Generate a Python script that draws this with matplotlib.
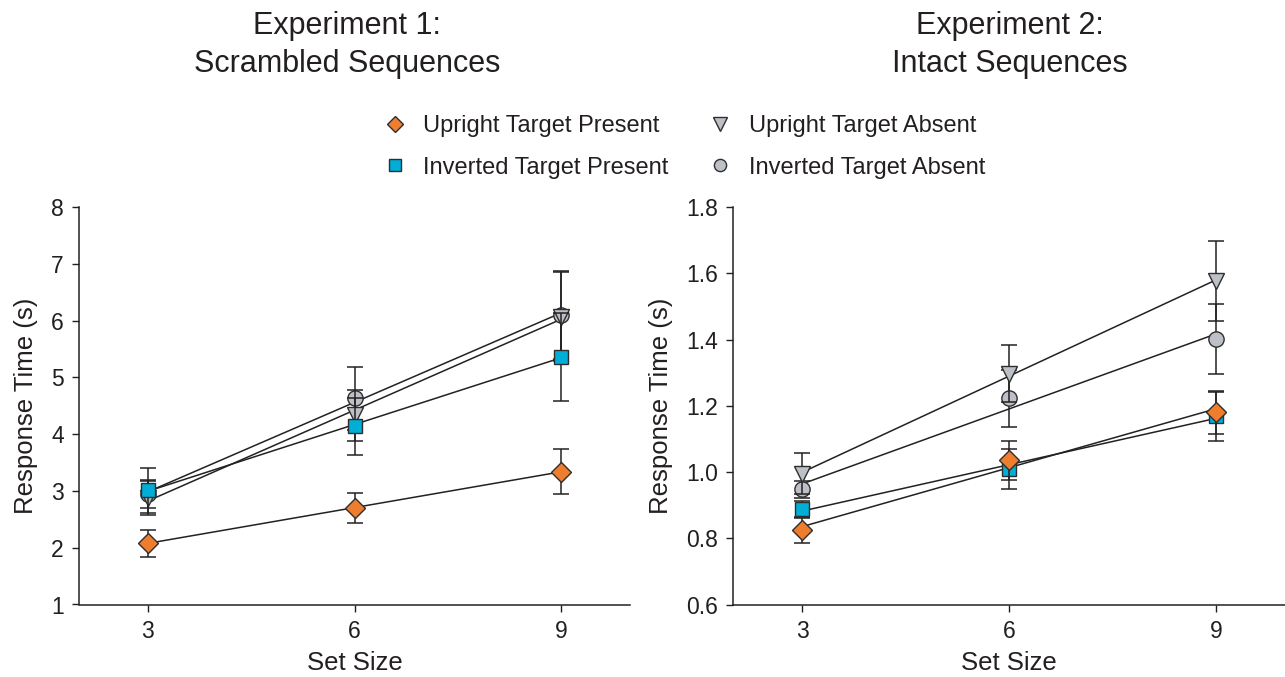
import numpy as np
import matplotlib
matplotlib.use("Agg")
import matplotlib.pyplot as plt
from matplotlib.lines import Line2D

plt.rcParams['font.family'] = ['Liberation Sans', 'DejaVu Sans']

set_sizes = [3, 6, 9]
series_names = ["Upright Target Present", "Inverted Target Present",
                "Upright Target Absent", "Inverted Target Absent"]

# Experiment 1: Scrambled sequences (means, SE)
exp1_upright_present = [2.08, 2.70, 3.34]
exp1_upright_present_err = [0.24, 0.27, 0.40]
exp1_inverted_present = [3.01, 4.14, 5.36]
exp1_inverted_present_err = [0.40, 0.50, 0.78]
exp1_upright_absent = [2.87, 4.33, 6.07]
exp1_upright_absent_err = [0.30, 0.45, 0.78]
exp1_inverted_absent = [2.95, 4.63, 6.10]
exp1_inverted_absent_err = [0.25, 0.55, 0.78]

# Experiment 2: Intact sequences (means, SE)
exp2_upright_present = [0.824, 1.035, 1.180]
exp2_upright_present_err = [0.037, 0.058, 0.065]
exp2_inverted_present = [0.888, 1.010, 1.168]
exp2_inverted_present_err = [0.025, 0.060, 0.075]
exp2_upright_absent = [0.995, 1.297, 1.576]
exp2_upright_absent_err = [0.062, 0.085, 0.120]
exp2_inverted_absent = [0.948, 1.222, 1.401]
exp2_inverted_absent_err = [0.025, 0.085, 0.105]

orange = "#EE7D2E"
blue = "#00AED6"
gray = "#BEC0C8"
edge = "#2E2E2E"
ink = "#231F20"

styles = {
    "Upright Target Present": dict(marker="D", color=orange, ms=10.5),
    "Inverted Target Present": dict(marker="s", color=blue, ms=10),
    "Upright Target Absent": dict(marker="v", color=gray, ms=12),
    "Inverted Target Absent": dict(marker="o", color=gray, ms=11),
}

W, H = 1285, 677
fig = plt.figure(figsize=(W / 100, H / 100), dpi=100)

def px_ax(x0, x1, y_top, y_bot):
    return fig.add_axes([x0 / W, 1 - y_bot / H, (x1 - x0) / W, (y_bot - y_top) / H])

ax1 = px_ax(79, 630, 207, 604.5)
ax2 = px_ax(733, 1285, 207, 604.5)

exp1 = {
    "Upright Target Present": (exp1_upright_present, exp1_upright_present_err),
    "Inverted Target Present": (exp1_inverted_present, exp1_inverted_present_err),
    "Upright Target Absent": (exp1_upright_absent, exp1_upright_absent_err),
    "Inverted Target Absent": (exp1_inverted_absent, exp1_inverted_absent_err),
}
exp2 = {
    "Upright Target Present": (exp2_upright_present, exp2_upright_present_err),
    "Inverted Target Present": (exp2_inverted_present, exp2_inverted_present_err),
    "Upright Target Absent": (exp2_upright_absent, exp2_upright_absent_err),
    "Inverted Target Absent": (exp2_inverted_absent, exp2_inverted_absent_err),
}

draw_order = ["Inverted Target Absent", "Upright Target Absent",
              "Inverted Target Present", "Upright Target Present"]

def draw(ax, data, ylim, yticks, yfmt):
    x = np.array(set_sizes, dtype=float)
    # regression lines
    for name in draw_order:
        m, e = data[name]
        coef = np.polyfit(x, m, 1)
        xx = np.array([x.min(), x.max()])
        ax.plot(xx, np.polyval(coef, xx), color="#222222", lw=1.1, zorder=2)
    z = 3
    for name in draw_order:
        m, e = data[name]
        st = styles[name]
        ax.errorbar(x, m, yerr=e, fmt="none", ecolor="#222222", elinewidth=1.1,
                    capsize=5.5, capthick=1.1, zorder=z)
        ax.plot(x, m, linestyle="none", marker=st["marker"], ms=st["ms"],
                markerfacecolor=st["color"], markeredgecolor=edge,
                markeredgewidth=1.0, zorder=z + 0.5)
        z += 1
    ax.set_xlim(2, 10)
    ax.set_ylim(*ylim)
    ax.set_xticks(set_sizes)
    ax.set_yticks(yticks)
    ax.set_yticklabels([yfmt.format(v) for v in yticks])
    for s in ["top", "right"]:
        ax.spines[s].set_visible(False)
    for s in ["left", "bottom"]:
        ax.spines[s].set_linewidth(1.1)
        ax.spines[s].set_color("#222222")
    ax.tick_params(axis="both", direction="out", length=5, width=1.0,
                   labelsize=16.5, colors=ink, pad=6)
    ax.set_xlabel("Set Size", fontsize=18.5, labelpad=6, color=ink)
    ax.set_ylabel("Response Time (s)", fontsize=18.5, labelpad=9, color=ink)

draw(ax1, exp1, (1, 8), [1, 2, 3, 4, 5, 6, 7, 8], "{:g}")
draw(ax2, exp2, (0.6, 1.8), [0.6, 0.8, 1.0, 1.2, 1.4, 1.6, 1.8], "{:.1f}")

fig.text(347 / W, 1 - 45 / H, "Experiment 1:\nScrambled Sequences", ha="center",
         va="center", fontsize=22, color=ink, linespacing=1.38)
fig.text(1010 / W, 1 - 45 / H, "Experiment 2:\nIntact Sequences", ha="center",
         va="center", fontsize=22, color=ink, linespacing=1.38)

legend_order = ["Upright Target Present", "Inverted Target Present",
                "Upright Target Absent", "Inverted Target Absent"]
handles = []
for name in legend_order:
    st = styles[name]
    handles.append(Line2D([], [], linestyle="none", marker=st["marker"],
                          ms=st["ms"] * 0.8, markerfacecolor=st["color"],
                          markeredgecolor=edge, markeredgewidth=1.0))
fig.legend(handles, legend_order, ncol=2, loc="center",
           bbox_to_anchor=(684 / W, 1 - 147 / H), frameon=False,
           fontsize=17, handlelength=1.0, handletextpad=0.7,
           columnspacing=1.7, labelspacing=0.82, borderpad=0,
           labelcolor=ink)

fig.savefig("out.png", dpi=100)
